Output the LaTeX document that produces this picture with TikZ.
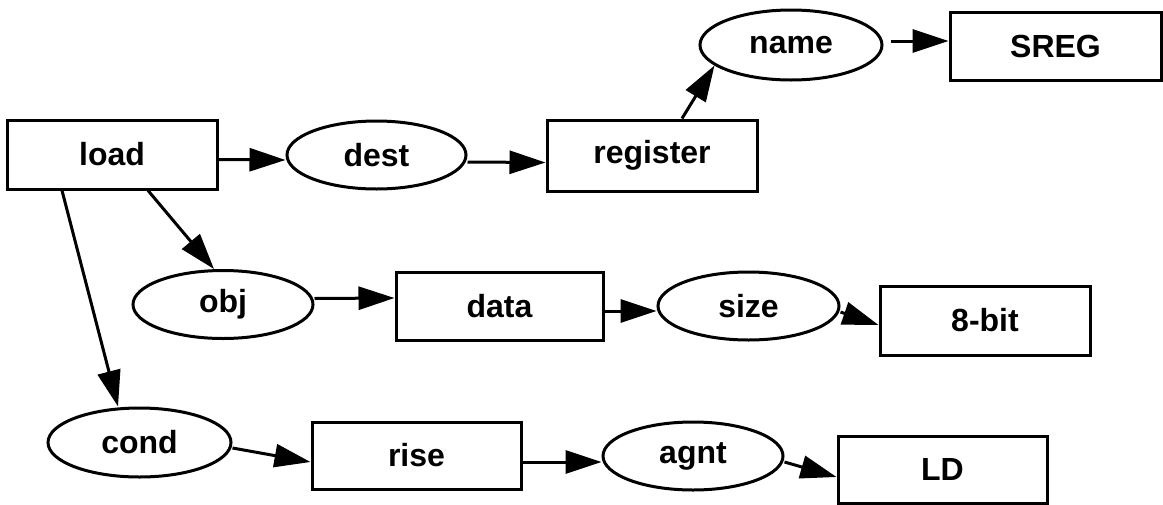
\documentclass[tikz,border=0pt]{standalone}
\usepackage{fontspec}
\setmainfont{Liberation Sans}
\usetikzlibrary{arrows.meta,shapes.geometric}

\tikzset{
  concept/.style={draw, rectangle, line width=3pt, inner sep=0pt,
    font=\fontsize{32}{38}\selectfont\bfseries},
  relation/.style={draw, ellipse, line width=3pt, inner sep=0pt,
    font=\fontsize{32}{38}\selectfont\bfseries},
  link/.style={line width=3pt, -{Triangle[length=36pt,width=23pt]}},
}

\begin{document}
\begin{tikzpicture}[x=1pt,y=-1pt]
  \useasboundingbox (0,0) rectangle (1163,504);

  % concept boxes
  \node[concept, minimum width=210pt, minimum height=69pt] (load)     at (112,154.5) {load};
  \node[concept, minimum width=210pt, minimum height=71pt] (register) at (652,155.5) {register};
  \node[concept, minimum width=211pt, minimum height=68pt] (sreg)     at (1055.5,46) {SREG};
  \node[concept, minimum width=207pt, minimum height=68pt] (data)     at (499.5,306) {data};
  \node[concept, minimum width=210pt, minimum height=69pt] (bits)     at (985,320.5) {8-bit};
  \node[concept, minimum width=209pt, minimum height=67pt] (rise)     at (416.5,455.5) {rise};
  \node[concept, minimum width=209pt, minimum height=67pt] (ld)       at (942.5,469.5) {LD};

  % relation ellipses
  \node[relation, minimum width=179pt, minimum height=68pt] (dest) at (376.5,155) {dest};
  \node[relation, minimum width=182pt, minimum height=70pt] (name) at (791,45) {name};
  \node[relation, minimum width=180pt, minimum height=68pt] (obj)  at (223,304.5) {obj};
  \node[relation, minimum width=181pt, minimum height=68pt] (size) at (748.5,306) {size};
  \node[relation, minimum width=183pt, minimum height=69pt] (cond) at (139.5,442.5) {cond};
  \node[relation, minimum width=180pt, minimum height=68pt] (agnt) at (693,456) {agnt};

  % connectors
  \draw[link] ([yshift=-5pt]load.east) -- ([yshift=-5pt]dest.west);
  \draw[link] ([yshift=-7pt]dest.east) -- ([yshift=-7pt]register.west);
  \draw[link] ([xshift=30pt]register.north) -- (name.195);
  \draw[link] ([xshift=7pt,yshift=4pt]name.east) -- ([yshift=5pt]sreg.west);

  \draw[link] ([xshift=36pt]load.south) -- ([xshift=-9pt]obj.north);
  \draw[link] ([yshift=6pt]obj.east) -- ([yshift=8pt]data.west);
  \draw[link] ([yshift=-5pt]data.east) -- ([yshift=-5pt]size.west);
  \draw[link] ([yshift=-6pt]size.east) -- ([yshift=-4.5pt]bits.west);

  \draw[link] ([xshift=-50pt]load.south) -- ([xshift=-21.5pt]cond.north);
  \draw[link] ([yshift=-5.5pt]cond.east) -- ([yshift=-6.5pt]rise.west);
  \draw[link] ([yshift=-6.5pt]rise.east) -- ([yshift=-6pt]agnt.west);
  \draw[link] ([yshift=-6pt]agnt.east) -- ([yshift=-7.5pt]ld.west);
\end{tikzpicture}
\end{document}
